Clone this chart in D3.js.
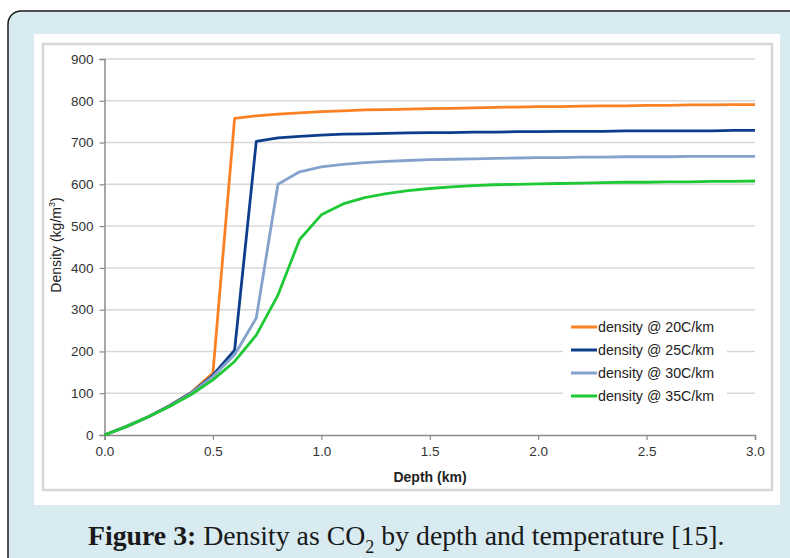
<!DOCTYPE html>
<html><head><meta charset="utf-8">
<script src="https://cdn.jsdelivr.net/npm/d3@7"></script>
<style>body{margin:0;background:#fff;} svg{display:block;}</style>
</head><body>
<svg id="c" width="790" height="558"></svg>
<script>
const depth = [0.0,0.1,0.2,0.3,0.4,0.5,0.6,0.7,0.8,0.9,1.0,1.1,1.2,1.3,1.4,1.5,1.6,1.7,1.8,1.9,2.0,2.1,2.2,2.3,2.4,2.5,2.6,2.7,2.8,2.9,3.0];
const density20 = [0,20,43,70,102,148,758,764,768,771,774,776,778,779,780,781,782,783,784,785,786,786,787,788,788,789,789,790,790,791,791];
const density25 = [0,20,43,70,101,143,203,703,711,715,718,720,721,722,723,724,724,725,725,726,726,727,727,727,728,728,728,728,728,729,729];
const density30 = [0,20,43,69,100,140,192,280,600,630,642,648,652,655,657,659,660,661,662,663,664,664,665,665,666,666,666,667,667,667,667];
const density35 = [0,20,43,68,97,132,176,239,335,468,527,553,568,578,585,590,594,597,599,600,601,602,603,604,605,605,606,606,607,607,608];
const seriesNames = ["density @ 20C/km","density @ 25C/km","density @ 30C/km","density @ 35C/km"];
const seriesColors = ["#fb8125","#0c3e8c","#85a2cc","#1fc936"];
const xTicks = [0,0.5,1.0,1.5,2.0,2.5,3.0];
const yTicks = [0,100,200,300,400,500,600,700,800,900];

const FONT = "Liberation Sans, Arial, sans-serif";
const svg = d3.select("#c");
// outer frame
svg.append("rect").attr("x",8).attr("y",11).attr("width",820).attr("height",620).attr("rx",13)
  .attr("fill","#d8ebf1").attr("stroke","#1a1a1a").attr("stroke-width",1.5);
svg.append("rect").attr("x",34).attr("y",34).attr("width",746).attr("height",471).attr("fill","#fff");
svg.append("rect").attr("x",43).attr("y",44).attr("width",729).attr("height",446)
  .attr("fill","#fff").attr("stroke","#d6d6d6").attr("stroke-width",2.5);

const x = d3.scaleLinear().domain([0,3]).range([104.5,755]);
const y = d3.scaleLinear().domain([0,900]).range([435,59]);

// gridlines
svg.append("g").selectAll("line").data(yTicks.filter(d=>d>0)).join("line")
  .attr("x1",x(0)).attr("x2",x(3)).attr("y1",d=>y(d)).attr("y2",d=>y(d))
  .attr("stroke","#d8d8d8").attr("stroke-width",1.5);

// axes
const gy = svg.append("g").attr("transform",`translate(${x(0)},0)`)
  .call(d3.axisLeft(y).tickValues(yTicks).tickSize(5).tickPadding(6).tickFormat(d3.format("d")));
const gx = svg.append("g").attr("transform",`translate(0,${y(0)})`)
  .call(d3.axisBottom(x).tickValues(xTicks).tickSize(5).tickPadding(6).tickFormat(d3.format(".1f")));
[gx,gy].forEach(g=>{
  g.select(".domain").attr("stroke","#8a8a8a").attr("stroke-width",1.5);
  g.selectAll(".tick line").attr("stroke","#8a8a8a").attr("stroke-width",1.2);
  g.selectAll(".tick text").attr("fill","#333").attr("font-family",FONT).attr("font-size",13.5);
});

// lines
const allSeries = [density20,density25,density30,density35];
const line = d3.line().x((d,i)=>x(depth[i])).y(d=>y(d));
allSeries.forEach((s,k)=>{
  svg.append("path").datum(s).attr("d",line).attr("fill","none")
    .attr("stroke",seriesColors[k]).attr("stroke-width",2.8).attr("stroke-linejoin","round");
});

// axis titles
svg.append("text").attr("x",430).attr("y",482).attr("text-anchor","middle")
  .attr("font-family",FONT).attr("font-size",14).attr("font-weight","bold")
  .attr("fill","#222").text("Depth (km)");
const yt = svg.append("text").attr("transform","translate(61,245) rotate(-90)").attr("text-anchor","middle")
  .attr("font-family",FONT).attr("font-size",14).attr("fill","#222");
yt.append("tspan").text("Density (kg/m");
yt.append("tspan").attr("font-size",9).attr("dy",-6).text("3");
yt.append("tspan").attr("dy",6).text(")");

// legend
const lg = svg.append("g");
lg.append("rect").attr("x",563).attr("y",315).attr("width",164).attr("height",92).attr("fill","#fff");
seriesNames.forEach((n,k)=>{
  const yy = 327 + k*23;
  lg.append("line").attr("x1",571).attr("x2",597).attr("y1",yy).attr("y2",yy)
    .attr("stroke",seriesColors[k]).attr("stroke-width",3);
  lg.append("text").attr("x",598).attr("y",yy+5).attr("font-family",FONT)
    .attr("font-size",14.2).attr("fill","#222").text(n);
});

// caption
const cap = svg.append("text").attr("x",88).attr("y",545).attr("font-family","Liberation Serif, serif")
  .attr("font-size",26).attr("fill","#1a1a1a");
cap.append("tspan").attr("font-weight","bold").text("Figure 3:");
cap.append("tspan").text(" Density as CO");
cap.append("tspan").attr("font-size",17).attr("dy",8).text("2");
cap.append("tspan").attr("dy",-8).text(" by depth and temperature [15].");
const w = cap.node().getComputedTextLength();
const fs = 26*637/w;
cap.attr("font-size",fs);
cap.select("tspan:nth-child(3)").attr("font-size",fs*0.65);
</script>
</body></html>
